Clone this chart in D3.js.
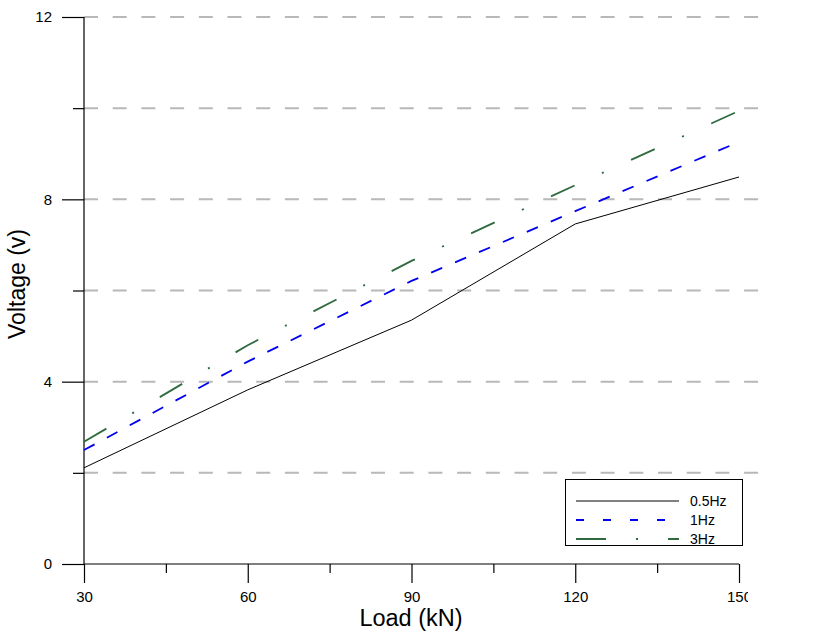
<!DOCTYPE html>
<html>
<head>
<meta charset="utf-8">
<script src="https://cdn.jsdelivr.net/npm/d3@7"></script>
<style>
  html, body { margin: 0; padding: 0; background: #fff; }
  svg { display: block; font-family: "Liberation Sans", Arial, sans-serif; }
</style>
</head>
<body>
<svg id="chart" width="822" height="641"></svg>
<script>
// ---- data ----
const loads = [30, 60, 90, 120, 150];
const series05Hz = [2.11, 3.82, 5.35, 7.46, 8.49];
const series1Hz  = [2.50, 4.44, 6.21, 7.74, 9.26];
const series3Hz  = [2.68, 4.80, 6.65, 8.31, 9.94];
const seriesNames = ["0.5Hz", "1Hz", "3Hz"];
const xMajorTicks = [30, 60, 90, 120, 150];
const xMinorTicks = [45, 75, 105, 135];
const yMajorTicks = [0, 4, 8, 12];
const yMinorTicks = [2, 6, 10];
const gridValues = [2, 4, 6, 8, 10, 12];

const styles = [
  { color: "#000000", width: 1, dash: null, legendDash: null },
  { color: "#0000ee", width: 1.8, dash: "12,14", legendDash: "8,19" },
  { color: "#2f6b3f", width: 1.8, dash: "26,30,2,30", legendDash: "30,30,2,30" }
];
const seriesData = [series05Hz, series1Hz, series3Hz];

const svg = d3.select("#chart");
const x = d3.scaleLinear().domain([30, 150]).range([84, 739]);
const y = d3.scaleLinear().domain([0, 12]).range([564, 17]);

// grid lines
svg.append("g").selectAll("line").data(gridValues).join("line")
  .attr("x1", x(30)).attr("x2", 765)
  .attr("y1", d => y(d)).attr("y2", d => y(d))
  .attr("stroke", "#b8b8b8").attr("stroke-width", 2)
  .attr("stroke-dasharray", "14,14.7");

// y axis
const yMajor = d3.axisLeft(y).tickValues(yMajorTicks).tickSize(22).tickPadding(10).tickFormat(d3.format("d"));
const yMinor = d3.axisLeft(y).tickValues(yMinorTicks).tickSize(11).tickFormat("");
const gy = svg.append("g").attr("transform", `translate(${x(30)},0)`).call(yMajor);
const gy2 = svg.append("g").attr("transform", `translate(${x(30)},0)`).call(yMinor);
[gy, gy2].forEach(g => { g.select(".domain").remove(); });
gy.selectAll("text").attr("font-size", 15).attr("fill", "#000").attr("font-family", "Liberation Sans, Arial, sans-serif");

// x axis
svg.append("clipPath").attr("id", "xclip").append("rect")
  .attr("x", 0).attr("y", 0).attr("width", 748).attr("height", 641);
const xMajor = d3.axisBottom(x).tickValues(xMajorTicks).tickSize(19).tickPadding(8).tickFormat(d3.format("d"));
const xMinor = d3.axisBottom(x).tickValues(xMinorTicks).tickSize(9).tickFormat("");
const gx = svg.append("g").attr("transform", `translate(0,${y(0)})`).call(xMajor);
const gx2 = svg.append("g").attr("transform", `translate(0,${y(0)})`).call(xMinor);
[gx, gx2].forEach(g => g.select(".domain").remove());
gx.selectAll("text").attr("font-size", 15).attr("fill", "#000").attr("font-family", "Liberation Sans, Arial, sans-serif");
gx.attr("clip-path", "url(#xclip)");
svg.selectAll(".tick line").attr("stroke", "#000").attr("stroke-width", 1.2);

// axis lines
svg.append("line").attr("x1", x(30)).attr("x2", x(30)).attr("y1", y(12)).attr("y2", y(0))
  .attr("stroke", "#000").attr("stroke-width", 1.2);
svg.append("line").attr("x1", x(30)).attr("x2", x(150)).attr("y1", y(0)).attr("y2", y(0))
  .attr("stroke", "#000").attr("stroke-width", 1.2);

// series
const line = d3.line().x((d, i) => x(loads[i])).y(d => y(d));
seriesData.forEach((s, k) => {
  const p = svg.append("path").datum(s).attr("d", line)
    .attr("fill", "none").attr("stroke", styles[k].color)
    .attr("stroke-width", styles[k].width);
  if (styles[k].dash) p.attr("stroke-dasharray", styles[k].dash);
});

// axis titles
svg.append("text").attr("x", 411).attr("y", 626).attr("text-anchor", "middle")
  .attr("font-size", 23.5).attr("fill", "#000").text("Load (kN)");
svg.append("text").attr("transform", "translate(25,284) rotate(-90)").attr("text-anchor", "middle")
  .attr("font-size", 23).attr("fill", "#000").text("Voltage (v)");

// legend
const lg = svg.append("g");
lg.append("rect").attr("x", 565.5).attr("y", 479.5).attr("width", 177).attr("height", 66)
  .attr("fill", "#fff").attr("stroke", "#000").attr("stroke-width", 1);
seriesNames.forEach((n, k) => {
  const yy = 501 + k * 19;
  const l = lg.append("line").attr("x1", 576).attr("x2", 679).attr("y1", yy).attr("y2", yy)
    .attr("stroke", styles[k].color).attr("stroke-width", styles[k].width);
  if (styles[k].legendDash) l.attr("stroke-dasharray", styles[k].legendDash);
  lg.append("text").attr("x", 690).attr("y", yy + 5).attr("font-size", 14).attr("fill", "#000").text(n);
});
</script>
</body>
</html>
